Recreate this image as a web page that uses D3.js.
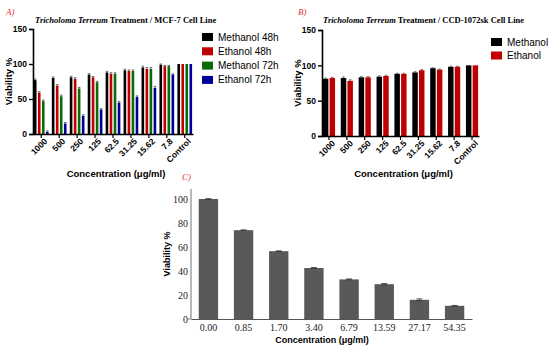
<!DOCTYPE html>
<html>
<head>
<meta charset="utf-8">
<script src="https://cdn.jsdelivr.net/npm/d3@7"></script>
<style>
  body { margin: 0; background: #fff; }
  svg { display: block; }
  .sans { font-family: "Liberation Sans", Arial, sans-serif; font-weight: bold; }
  .serif { font-family: "Liberation Serif", "Times New Roman", serif; }
</style>
</head>
<body>
<svg id="chart" width="550" height="350"></svg>
<script>
// data
const concA = ['1000', '500', '250', '125', '62.5', '31.25', '15.62', '7.8', 'Control'];
const seriesA = ['Methanol 48h', 'Ethanol 48h', 'Methanol 72h', 'Ethanol 72h'];
const methanol48 = [77, 80, 81, 85, 88, 91, 95, 99, 100];
const ethanol48 = [59, 69, 79, 81, 86, 90, 93, 97, 100];
const methanol72 = [47, 54, 65, 74, 86, 90, 93, 97, 100];
const ethanol72 = [3, 15, 26, 35, 45, 53, 66, 85, 100];
const errA = [1.5, 1.5, 1.5, 1.2, 1.5, 1.5, 2, 1, 0];
const colorsA = ['#000000', '#c00000', '#0a6b0a', '#000099'];

const seriesB = ['Methanol', 'Ethanol'];
const methanolB = [81, 82, 83, 84, 88, 90, 96, 98, 100];
const ethanolB = [82, 78, 83, 85, 88, 93, 94, 98, 100];
const errB = [1, 1.5, 1, 1, 0.8, 1, 0.6, 0.8, 0];
const colorsB = ['#000000', '#c00000'];

const concC = ['0.00', '0.85', '1.70', '3.40', '6.79', '13.59', '27.17', '54.35'];
const viabilityC = [100, 74, 56.5, 42.5, 33, 29, 16, 11];
const errC = [0.3, 0.3, 0.3, 0.4, 0.4, 0.6, 0.8, 0.3];

const yTicksAB = [0, 50, 100, 150];
const yTicksC = [0, 20, 40, 60, 80, 100];

const svg = d3.select('#chart');
svg.append('rect').attr('width', 550).attr('height', 350).attr('fill', '#fff');

function groupedPanel(opt) {
    const g = svg.append('g');
    const x0 = d3.scaleBand().domain(concA).range([opt.left, opt.right]).paddingInner(opt.padIn).paddingOuter(opt.padOut);
    const x1 = d3.scaleBand().domain(opt.series).range([0, x0.bandwidth()]).paddingInner(opt.barGap);
    const y = d3.scaleLinear().domain([0, 150]).range([opt.bottom, opt.top]);

    opt.series.forEach((s, si) => {
        const vals = opt.values[si];
        const bars = g.append('g');
        bars.selectAll('rect').data(vals).enter().append('rect')
            .attr('x', (d, i) => x0(concA[i]) + x1(s))
            .attr('y', d => y(d))
            .attr('width', x1.bandwidth())
            .attr('height', d => y(0) - y(d))
            .attr('fill', opt.colors[si]);
        // error bars
        const cx = i => x0(concA[i]) + x1(s) + x1.bandwidth() / 2;
        bars.selectAll('path.err').data(vals).enter().append('path')
            .attr('class', 'err')
            .attr('d', (d, i) => {
                const e = opt.err[i];
                if (!e) return null;
                return `M${cx(i)},${y(d + e)}V${y(d)}M${cx(i) - 1.3},${y(d + e)}H${cx(i) + 1.3}`;
            })
            .attr('stroke', '#555').attr('stroke-width', 0.8).attr('fill', 'none');
    });

    const yAxis = g.append('g').attr('transform', `translate(${opt.left},0)`)
        .call(d3.axisLeft(y).tickValues(yTicksAB).tickSize(4).tickPadding(2));
    yAxis.select('.domain').attr('stroke-width', 1.6);
    yAxis.selectAll('.tick line').attr('stroke-width', 1.4);
    yAxis.selectAll('text').attr('class', 'sans').attr('font-size', 8.5).attr('fill', '#000');

    const xAxis = g.append('g').attr('transform', `translate(0,${opt.bottom})`)
        .call(d3.axisBottom(x0).tickSize(4).tickSizeOuter(0).tickPadding(2));
    xAxis.select('.domain').attr('stroke-width', 1.6);
    xAxis.selectAll('.tick line').attr('stroke-width', 1.2);
    xAxis.selectAll('text').attr('class', 'sans').attr('font-size', 8.5).attr('fill', '#000')
        .attr('text-anchor', 'end').attr('dx', '-0.1em').attr('dy', '0.5em')
        .attr('transform', 'rotate(-45)');

    g.append('text').attr('class', 'sans').attr('font-size', 9.5)
        .attr('transform', `translate(${opt.left - 21},${(opt.top + opt.bottom) / 2}) rotate(-90)`)
        .attr('text-anchor', 'middle').text('Viability %');

    g.append('text').attr('class', 'sans').attr('font-size', 9.5)
        .attr('x', (opt.left + opt.right) / 2 + 3).attr('y', 177)
        .attr('text-anchor', 'middle').text('Concentration (\u03bcg/ml)');

    const title = g.append('text').attr('class', 'serif').attr('font-size', 8.5).attr('font-weight', 'bold')
        .attr('x', opt.titleX).attr('y', 23);
    title.append('tspan').attr('font-style', 'italic').text('Tricholoma Terreum');
    title.append('tspan').text(' Treatment / ' + opt.line);

    g.append('text').attr('class', 'serif').attr('font-size', 9).attr('font-style', 'italic')
        .attr('fill', '#e03030').attr('x', opt.labelX).attr('y', 15).text(opt.label);

    const leg = g.append('g');
    opt.series.forEach((s, si) => {
        const ly = opt.legY + si * opt.legStep;
        leg.append('rect').attr('x', opt.legX).attr('y', ly - 4).attr('width', 11).attr('height', 8)
            .attr('fill', opt.colors[si]);
        leg.append('text').attr('x', opt.legX + 16).attr('y', ly + 3.5)
            .attr('font-family', '"Liberation Sans", Arial, sans-serif').attr('font-size', 10)
            .text(s);
    });
}

groupedPanel({
    left: 33, right: 193, top: 29, bottom: 134,
    padIn: 0.18, padOut: 0.05, barGap: 0.35,
    series: seriesA, values: [methanol48, ethanol48, methanol72, ethanol72],
    colors: colorsA, err: errA,
    titleX: 35, line: 'MCF-7 Cell Line', label: 'A)', labelX: 6,
    legX: 202, legY: 37, legStep: 14.3
});

groupedPanel({
    left: 322, right: 479, top: 30, bottom: 136,
    padIn: 0.32, padOut: 0.05, barGap: 0.18,
    series: seriesB, values: [methanolB, ethanolB],
    colors: colorsB, err: errB,
    titleX: 323, line: 'CCD-1072sk Cell Line', label: 'B)', labelX: 298,
    legX: 491, legY: 42, legStep: 13.5
});

// panel C
const gc = svg.append('g');
const xc = d3.scaleBand().domain(concC).range([191, 472]).paddingInner(0.45).paddingOuter(0.22);
const yc = d3.scaleLinear().domain([0, 100]).range([319, 199]);

gc.selectAll('rect').data(viabilityC).enter().append('rect')
    .attr('x', (d, i) => xc(concC[i]))
    .attr('y', d => yc(d))
    .attr('width', xc.bandwidth())
    .attr('height', d => yc(0) - yc(d))
    .attr('fill', '#595959');
gc.selectAll('path.err').data(viabilityC).enter().append('path')
    .attr('d', (d, i) => {
        const cx = xc(concC[i]) + xc.bandwidth() / 2;
        const e = errC[i];
        return `M${cx},${yc(d + e)}V${yc(d - e)}M${cx - 3},${yc(d + e)}H${cx + 3}M${cx - 3},${yc(d - e)}H${cx + 3}`;
    })
    .attr('stroke', '#333').attr('stroke-width', 0.8);

const ycAxis = gc.append('g').attr('transform', 'translate(191,0)')
    .call(d3.axisLeft(yc).tickValues(yTicksC).tickSize(0).tickPadding(3));
ycAxis.select('.domain').attr('d', 'M-3,319H0V189').attr('stroke', '#888').attr('stroke-width', 1.2);
ycAxis.selectAll('text').attr('class', 'serif').attr('font-size', 10).attr('fill', '#222');

const xcAxis = gc.append('g').attr('transform', 'translate(0,319)')
    .call(d3.axisBottom(xc).tickSize(0).tickSizeOuter(0).tickPadding(5));
xcAxis.select('.domain').attr('stroke', '#555');
xcAxis.selectAll('text').attr('class', 'serif').attr('font-size', 10).attr('fill', '#222');

gc.append('text').attr('class', 'sans').attr('font-size', 9)
    .attr('transform', 'translate(170,254) rotate(-90)')
    .attr('text-anchor', 'middle').text('Viability %');
gc.append('text').attr('class', 'sans').attr('font-size', 9)
    .attr('x', 322).attr('y', 343).attr('text-anchor', 'middle').text('Concentration (\u03bcg/ml)');
gc.append('text').attr('class', 'serif').attr('font-size', 9).attr('font-style', 'italic')
    .attr('fill', '#e03030').attr('x', 182).attr('y', 180).text('C)');
</script>
</body>
</html>
